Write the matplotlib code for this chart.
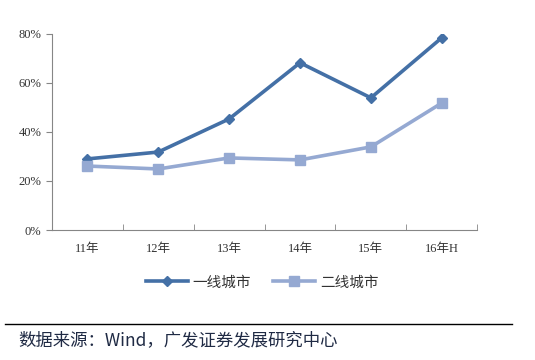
import numpy as np
import matplotlib.pyplot as plt

plt.rcParams['font.family'] = ['Liberation Serif', 'Noto Sans CJK SC']

categories = ['11年', '12年', '13年', '14年', '15年', '16年H']
tier1 = [29.0, 31.8, 45.3, 68.2, 53.9, 78.4]
tier2 = [26.1, 24.9, 29.4, 28.6, 33.9, 51.8]
names = ['一线城市', '二线城市']

fig = plt.figure(figsize=(5.35, 3.6), dpi=100)
ax = fig.add_axes([0.097, 0.361, 0.795, 0.545])

x = np.arange(len(categories))
ax.plot(x, tier1, color='#4470A6', linewidth=2.6, marker='D', markersize=5.5, label=names[0])
ax.plot(x, tier2, color='#95A9D2', linewidth=2.6, marker='s', markersize=7.5, label=names[1])

ax.set_xlim(-0.5, len(categories) - 0.5)
ax.set_ylim(0, 80)
ax.set_yticks([0, 20, 40, 60, 80])
ax.set_yticklabels([f'{v}%' for v in [0, 20, 40, 60, 80]])
ax.set_xticks(x)
ax.set_xticklabels(categories)
ax.set_xticks(np.arange(-0.5, len(categories)), minor=True)
ax.tick_params(axis='x', which='major', length=0, pad=9, labelsize=9, colors='#333333')
ax.tick_params(axis='x', which='minor', length=4, color='#868686', direction='in')
ax.tick_params(axis='y', length=4, color='#868686', labelsize=9, colors='#333333')

for s in ['top', 'right']:
    ax.spines[s].set_visible(False)
for s in ['left', 'bottom']:
    ax.spines[s].set_color('#868686')

leg = fig.legend(loc='center', bbox_to_anchor=(0.49, 0.215), ncol=2, frameon=False,
                 handlelength=2.9, columnspacing=1.5, handletextpad=0.3,
                 prop={'family': ['Noto Sans CJK SC'], 'size': 10.5})
for t in leg.get_texts():
    t.set_color('#333333')

fig.add_artist(plt.Line2D([0.01, 0.957], [0.1, 0.1], color='black', linewidth=1))
fig.text(0.034, 0.055, '数据来源：Wind，广发证券发展研究中心', fontsize=12.5, color='#1F2A44',
         family=['Noto Sans CJK SC'], va='center')

fig.savefig('out.png', dpi=100)
